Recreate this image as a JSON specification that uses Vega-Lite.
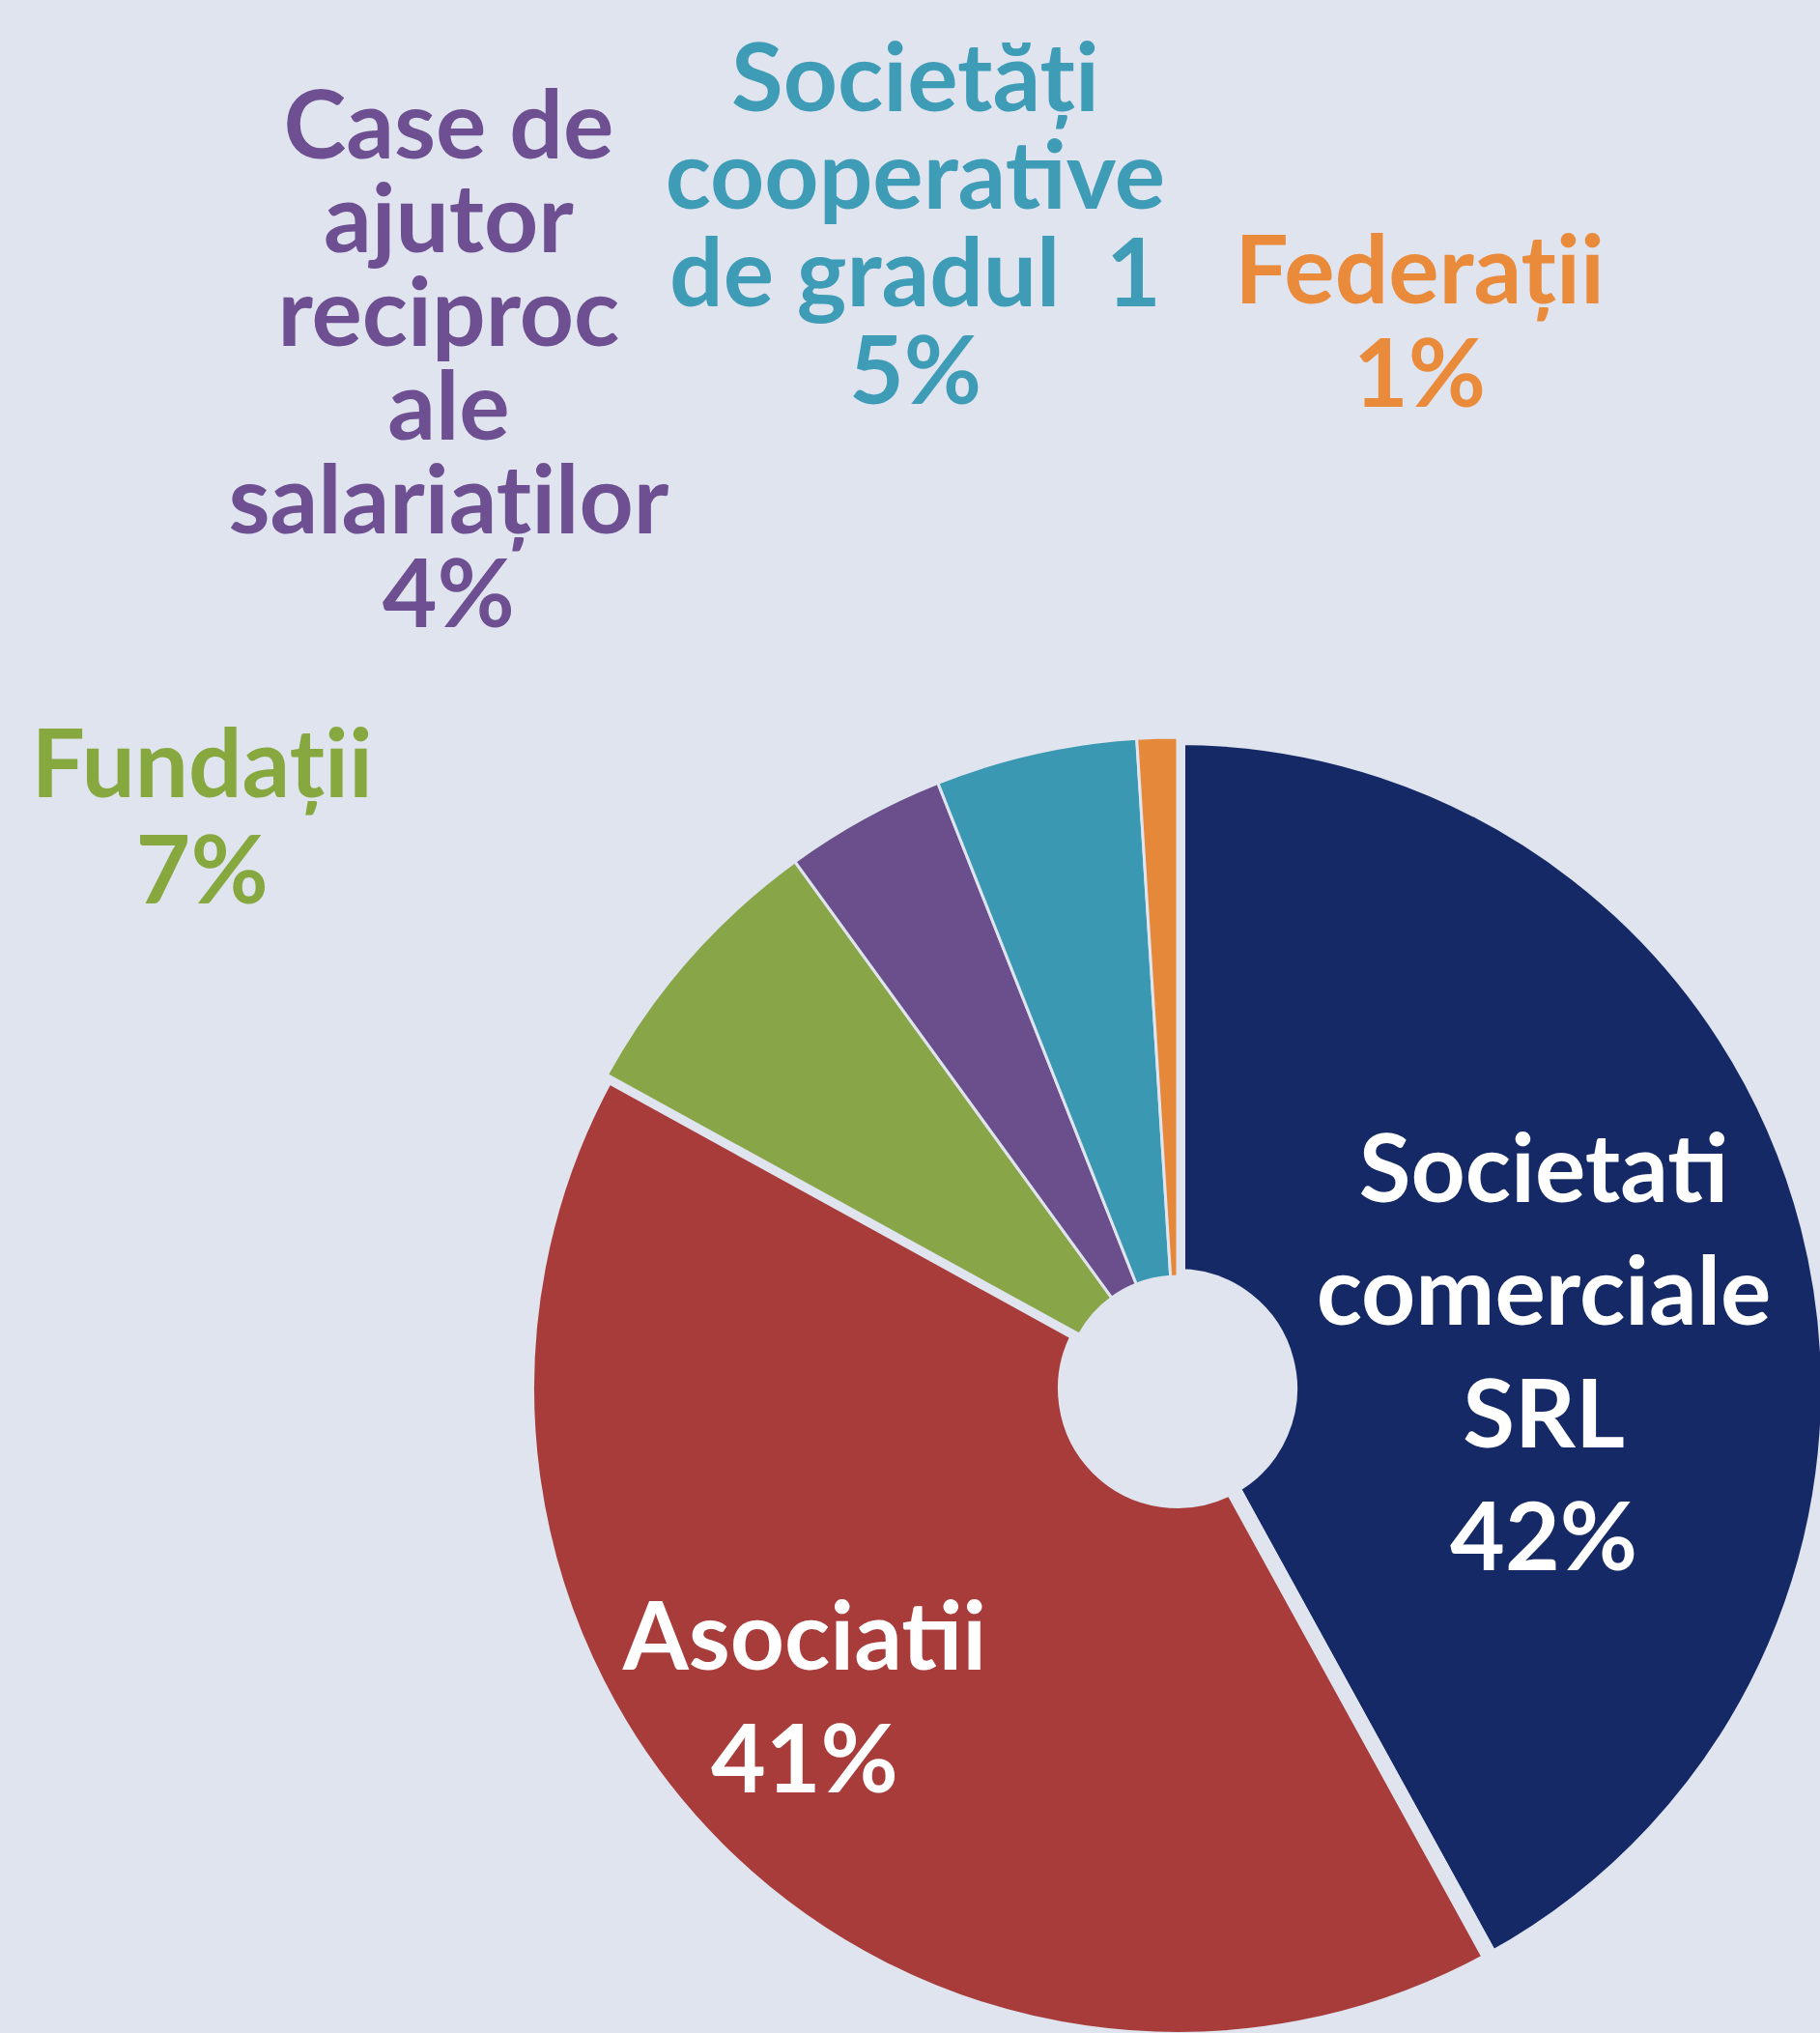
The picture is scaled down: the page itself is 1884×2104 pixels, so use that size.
{
  "$schema": "https://vega.github.io/schema/vega-lite/v6.json",
  "width": 1330,
  "height": 1330,
  "autosize": {"type": "none"},
  "padding": {"left": 554, "top": 772, "right": 0, "bottom": 2},
  "background": "#dfe4ee",
  "view": {"stroke": null},
  "config": {"text": {"font": "Lato", "fontWeight": "bold", "fontSize": 98, "align": "center", "baseline": "middle", "lineBreak": "\n"}},
  "data": {
    "values": [
      {"cat": "srl", "rank": 1, "value": 42, "label": "Societati\ncomerciale\nSRL\n42%"},
      {"cat": "asoc", "rank": 2, "value": 41, "label": "Asociatii\n41%"},
      {"cat": "fund", "rank": 3, "value": 7, "label": "Fundații\n7%"},
      {"cat": "case", "rank": 4, "value": 4, "label": "Case de\najutor\nreciproc\nale\nsalariaților\n4%"},
      {"cat": "coop", "rank": 5, "value": 5, "label": "Societăți\ncooperative\nde gradul\u00a0 1\n5%"},
      {"cat": "fed", "rank": 6, "value": 1, "label": "Federații\n1%"}
    ]
  },
  "encoding": {
    "theta": {"field": "value", "type": "quantitative", "stack": true},
    "order": {"field": "rank", "type": "quantitative"},
    "detail": {"field": "cat", "type": "nominal"}
  },
  "layer": [
    {
      "mark": {"type": "arc", "outerRadius": 674, "innerRadius": 116, "stroke": "#dfe4ee"},
      "encoding": {
        "color": {
          "field": "cat",
          "type": "nominal",
          "scale": {
            "domain": ["srl", "asoc", "fund", "case", "coop", "fed"],
            "range": ["#152966", "#a83c3b", "#88a547", "#6b4f8c", "#3a98b2", "#e5883a"]
          },
          "legend": null
        },
        "strokeWidth": {"condition": {"test": "datum.cat === 'srl' || datum.cat === 'asoc'", "value": 16}, "value": 3}
      }
    },
    {
      "mark": {"type": "text", "radius": 380, "dx": 11, "dy": -127, "lineHeight": 127, "color": "#ffffff"},
      "encoding": {"text": {"condition": {"test": "datum.cat === 'srl'", "field": "label"}, "value": ""}}
    },
    {
      "mark": {"type": "text", "radius": 505, "dx": -29, "dy": -95, "lineHeight": 127, "color": "#ffffff"},
      "encoding": {"text": {"condition": {"test": "datum.cat === 'asoc'", "field": "label"}, "value": ""}}
    },
    {
      "mark": {"type": "text", "radius": 1169, "dx": -133, "dy": 132, "lineHeight": 110, "color": "#86a83f"},
      "encoding": {"text": {"condition": {"test": "datum.cat === 'fund'", "field": "label"}, "value": ""}}
    },
    {
      "mark": {"type": "text", "radius": 1307, "dx": -125, "dy": -157, "lineHeight": 97, "color": "#6e4f92"},
      "encoding": {"text": {"condition": {"test": "datum.cat === 'case'", "field": "label"}, "value": ""}}
    },
    {
      "mark": {"type": "text", "radius": 1231, "dx": -3, "dy": -150, "lineHeight": 101, "color": "#3f9cb7"},
      "encoding": {"text": {"condition": {"test": "datum.cat === 'coop'", "field": "label"}, "value": ""}}
    },
    {
      "mark": {"type": "text", "radius": 1129, "dx": 286, "dy": -24, "lineHeight": 107, "color": "#e98b3b"},
      "encoding": {"text": {"condition": {"test": "datum.cat === 'fed'", "field": "label"}, "value": ""}}
    }
  ]
}
